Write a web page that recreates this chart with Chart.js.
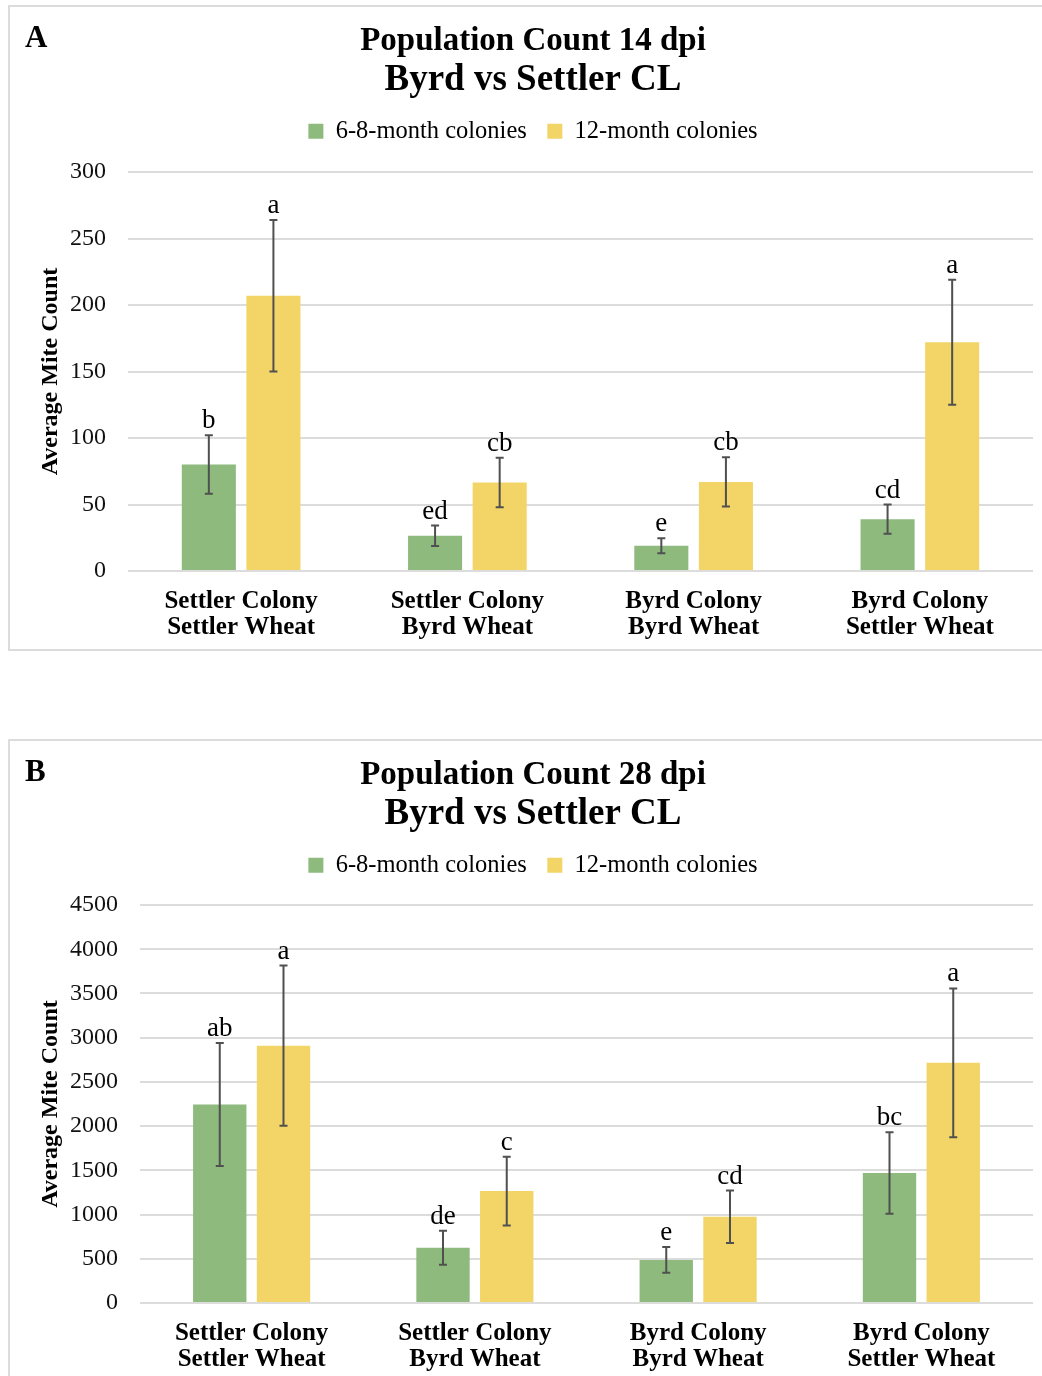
<!DOCTYPE html>
<html>
<head>
<meta charset="utf-8">
<script src="https://cdn.jsdelivr.net/npm/chart.js@4.4.1/dist/chart.umd.min.js"></script>
<style>
  html, body { margin: 0; padding: 0; background: #fff; overflow: hidden; width: 1042px; height: 1376px; }
  .panel { position: absolute; left: 8px; width: 1046px; height: 642px; border: 2px solid #dcdcdc; }
  .panel canvas { display: block; }
</style>
</head>
<body>
<div class="panel" style="top:5px"><canvas id="chartA" width="1046" height="642"></canvas></div>
<div class="panel" style="top:739px"><canvas id="chartB" width="1046" height="642"></canvas></div>
<script>
// categories
const categories = [
    ['Settler Colony', 'Settler Wheat'],
    ['Settler Colony', 'Byrd Wheat'],
    ['Byrd Colony', 'Byrd Wheat'],
    ['Byrd Colony', 'Settler Wheat']
];
const seriesNames = ['6-8-month colonies', '12-month colonies'];

// 14 dpi
const young14 = [80, 26.5, 19, 39];
const young14Err = [22, 7.7, 5.6, 11];
const old14 = [207, 66.5, 67, 172];
const old14Err = [57, 18.6, 18.5, 47];
const young14Letters = ['b', 'ed', 'e', 'cd'];
const old14Letters = ['a', 'cb', 'cb', 'a'];

// 28 dpi
const young28 = [2245, 625, 487, 1470];
const young28Err = [695, 192, 146, 460];
const old28 = [2910, 1265, 975, 2715];
const old28Err = [905, 388, 296, 842];
const young28Letters = ['ab', 'de', 'e', 'bc'];
const old28Letters = ['a', 'c', 'cd', 'a'];

// tick settings
const ticks14 = { max: 300, step: 50 };
const ticks28 = { max: 4500, step: 500 };

const GREEN = '#8EBA7E';
const YELLOW = '#F2D566';
const SERIF = "'Liberation Serif', 'Times New Roman', serif";

Chart.defaults.font.family = SERIF;
Chart.defaults.color = '#000';

// error bars, letters above them and the panel letter
const errorBarPlugin = {
    id: 'errorBars',
    beforeInit(chart, args, opts) {
        const legend = chart.legend;
        if (!legend) return;
        const fit = legend.fit;
        legend.fit = function() {
            fit.call(this);
            this.height = opts.legendHeight;
        };
    },
    afterDatasetsDraw(chart, args, opts) {
        const ctx = chart.ctx;
        const y = chart.scales.y;
        ctx.save();
        chart.data.datasets.forEach((ds, i) => {
            const meta = chart.getDatasetMeta(i);
            meta.data.forEach((bar, j) => {
                const v = ds.data[j];
                const e = opts.errors[i][j];
                const top = y.getPixelForValue(v + e);
                const bot = y.getPixelForValue(v - e);
                ctx.strokeStyle = '#505050';
                ctx.lineWidth = 2;
                ctx.beginPath();
                ctx.moveTo(bar.x, top);
                ctx.lineTo(bar.x, bot);
                ctx.moveTo(bar.x - 4, top);
                ctx.lineTo(bar.x + 4, top);
                ctx.moveTo(bar.x - 4, bot);
                ctx.lineTo(bar.x + 4, bot);
                ctx.stroke();

                ctx.fillStyle = '#000';
                ctx.font = '27px ' + SERIF;
                ctx.textAlign = 'center';
                ctx.textBaseline = 'alphabetic';
                ctx.fillText(opts.letters[i][j], bar.x, top - 7);
            });
        });
        ctx.fillStyle = '#000';
        ctx.font = 'bold 31px ' + SERIF;
        ctx.textAlign = 'left';
        ctx.fillText(opts.panel, 15, 40);
        ctx.restore();
    }
};

function makeChart(id, title, young, old, errs, letters, tk, panel, yWidth, xHeight, legendHeight) {
    return new Chart(document.getElementById(id), {
        type: 'bar',
        data: {
            labels: categories,
            datasets: [
                { label: seriesNames[0], data: young, backgroundColor: GREEN, yAxisID: 'y' },
                { label: seriesNames[1], data: old, backgroundColor: YELLOW, yAxisID: 'y' }
            ]
        },
        options: {
            responsive: false,
            animation: false,
            categoryPercentage: 0.571,
            barPercentage: 0.837,
            layout: { padding: 0 },
            plugins: {
                title: {
                    display: true,
                    text: title,
                    color: '#000',
                    font: { size: 33, weight: 'bold', lineHeight: 1 },
                    padding: { top: 17.5, bottom: 0 }
                },
                subtitle: {
                    display: true,
                    text: 'Byrd vs Settler CL',
                    color: '#000',
                    font: { size: 37, weight: 'bold', lineHeight: 1 },
                    padding: { top: 4, bottom: 0 }
                },
                legend: {
                    position: 'top',
                    labels: {
                        boxWidth: 15,
                        boxHeight: 15,
                        padding: 20.5,
                        color: '#000',
                        font: { size: 24.5 }
                    }
                },
                tooltip: { enabled: false },
                errorBars: { errors: errs, letters: letters, panel: panel, legendHeight: legendHeight }
            },
            scales: {
                x: {
                    grid: { display: false },
                    border: { display: false },
                    ticks: {
                        padding: 10,
                        color: '#000',
                        font: { size: 25, weight: 'bold', lineHeight: 1.04 }
                    },
                    afterFit(scale) { scale.height = xHeight; }
                },
                y: {
                    min: 0,
                    max: tk.max,
                    ticks: {
                        stepSize: tk.step,
                        padding: 22,
                        color: '#111',
                        font: { size: 24 },
                        callback: value => String(value)
                    },
                    grid: { color: '#dcdcdc', lineWidth: 2, drawTicks: false },
                    border: { display: false },
                    title: {
                        display: true,
                        text: 'Average Mite Count',
                        color: '#000',
                        font: { size: 24, weight: 'bold', lineHeight: 1.2 },
                        padding: { top: 26, bottom: 0 }
                    },
                    afterFit(scale) { scale.width = yWidth; }
                },
                // empty right margin so the title stays centred on the panel
                yR: {
                    type: 'linear',
                    position: 'right',
                    grid: { display: false },
                    border: { display: false },
                    ticks: { display: false },
                    afterFit(scale) { scale.width = 23; }
                }
            }
        },
        plugins: [errorBarPlugin]
    });
}

makeChart('chartA', 'Population Count 14 dpi', young14, old14,
    [young14Err, old14Err], [young14Letters, old14Letters], ticks14, 'A', 118, 78, 73.5);
makeChart('chartB', 'Population Count 28 dpi', young28, old28,
    [young28Err, old28Err], [young28Letters, old28Letters], ticks28, 'B', 130, 80, 72.5);
</script>
</body>
</html>
